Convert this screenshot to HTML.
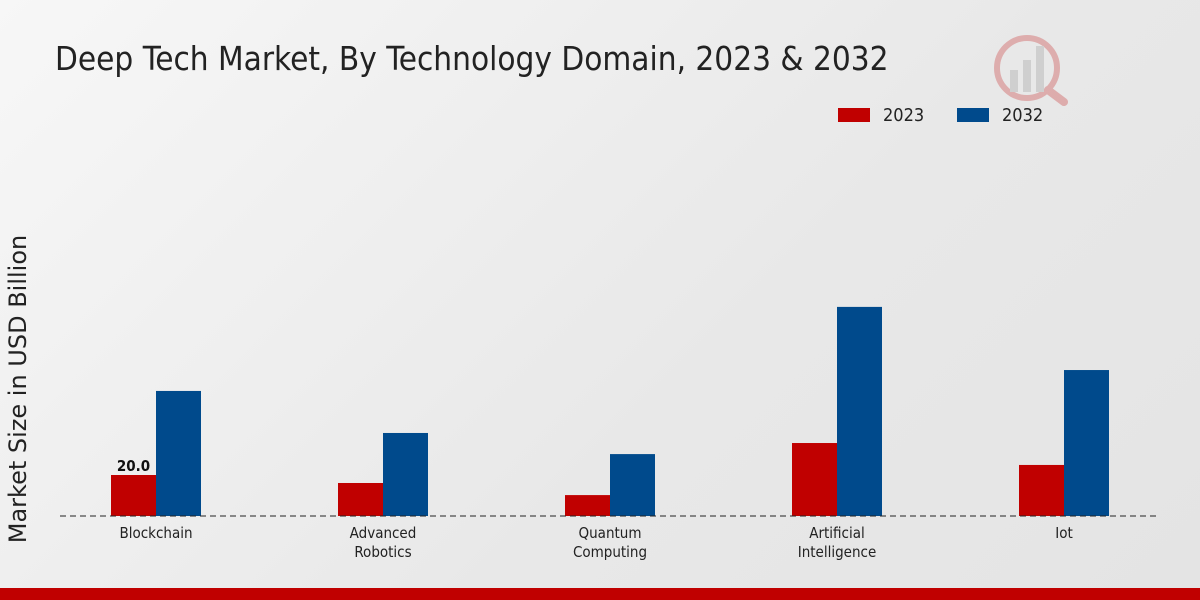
<!DOCTYPE html>
<html><head><meta charset="utf-8"><style>
body{margin:0;width:1200px;height:600px;overflow:hidden;background:linear-gradient(135deg,#f7f7f7 0%,#e8e8e8 60%,#e4e4e4 100%);font-family:"DejaVu Sans Condensed","Liberation Sans",sans-serif}
svg{position:absolute;left:0;top:0}
</style></head><body>
<svg width="1200" height="600">
<text x="55" y="70" font-size="33" fill="#222" style="font-family:'DejaVu Sans Condensed','Liberation Sans',sans-serif">Deep Tech Market, By Technology Domain, 2023 &amp; 2032</text>
<text transform="translate(26,389) rotate(-90)" text-anchor="middle" font-size="24" fill="#222" style="font-family:'DejaVu Sans','Liberation Sans',sans-serif">Market Size in USD Billion</text>
<g>
<rect x="838" y="108" width="32" height="14" fill="#c00000"/>
<text x="883" y="121" font-size="18" fill="#222">2023</text>
<rect x="957" y="108" width="32" height="14" fill="#004a8c"/>
<text x="1002" y="121" font-size="18" fill="#222">2032</text>
</g>
<g id="bars"></g>
<line x1="60" y1="516" x2="1160" y2="516" stroke="#222" stroke-dasharray="6,4"/>
<rect x="0" y="588" width="1200" height="12" fill="#c00000"/>
<g opacity="0.25">
<circle cx="1027" cy="68" r="30" fill="none" stroke="#c00000" stroke-width="6"/>
<rect x="1010" y="70" width="8" height="22" fill="#888"/><rect x="1023" y="60" width="8" height="32" fill="#888"/><rect x="1036" y="46" width="8" height="46" fill="#888"/>
<line x1="1048" y1="90" x2="1064" y2="102" stroke="#c00000" stroke-width="8" stroke-linecap="round"/>
</g>
</svg>
<script>
const categories=["Blockchain","Advanced\nRobotics","Quantum\nComputing","Artificial\nIntelligence","Iot"];
const values2023=[20.0,16.1,10.2,35.6,24.9];
const values2032=[61.0,40.5,30.2,102.0,71.2];
const valueLabels=["20.0","","","",""];
const ns="http://www.w3.org/2000/svg";
const g=document.getElementById("bars");
const base=516, scale=2.05, x0=156, step=227, bw=45;
const yPx=v=>base-v*scale;
function mk(t,a){const e=document.createElementNS(ns,t);for(const k in a)e.setAttribute(k,a[k]);return e;}
categories.forEach((c,i)=>{
  const cx=x0+i*step;
  const r1=mk("rect",{x:cx-bw,y:yPx(values2023[i]),width:bw,height:base-yPx(values2023[i]),fill:"#c00000"});
  
  
  g.appendChild(r1);
  const r2=mk("rect",{x:cx,y:yPx(values2032[i]),width:bw,height:base-yPx(values2032[i]),fill:"#004a8c"});
  
  
  g.appendChild(r2);
  if(valueLabels[i]){
    const t=mk("text",{x:cx-bw/2,y:yPx(values2023[i])-4,"text-anchor":"middle","font-size":"15","font-weight":"bold",fill:"#111"});
    t.textContent=valueLabels[i];
    
    
    g.appendChild(t);
  }
  c.split("\n").forEach((line,j)=>{
    const t=mk("text",{x:cx,y:538+j*19,"text-anchor":"middle","font-size":"15",fill:"#222"});
    t.textContent=line;
    
    
    g.appendChild(t);
  });
});
</script>
</body></html>
